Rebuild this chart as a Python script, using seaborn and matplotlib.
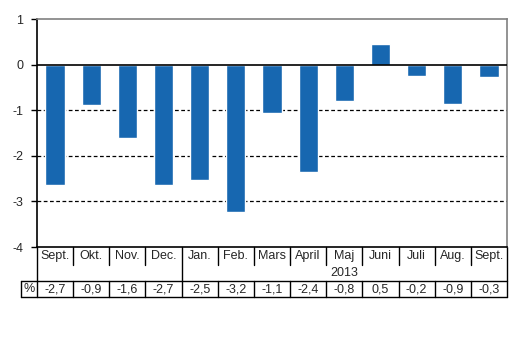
import matplotlib
matplotlib.use("Agg")
import matplotlib.pyplot as plt
import seaborn as sns
import pandas as pd
from matplotlib.lines import Line2D

months = ["Sept.", "Okt.", "Nov.", "Dec.", "Jan.", "Feb.", "Mars", "April",
          "Maj", "Juni", "Juli", "Aug.", "Sept."]
values = [-2.65, -0.88, -1.61, -2.64, -2.54, -3.24, -1.07, -2.36,
          -0.80, 0.46, -0.24, -0.87, -0.28]
table_labels = ["-2,7", "-0,9", "-1,6", "-2,7", "-2,5", "-3,2", "-1,1", "-2,4",
                "-0,8", "0,5", "-0,2", "-0,9", "-0,3"]
year_label = "2013"
year_start = 4
yticks = [-4, -3, -2, -1, 0, 1]
ytick_labels = ["-4", "-3", "-2", "-1", "0", "1"]

sns.set_style("white")
plt.rcParams["font.family"] = ["Liberation Sans", "DejaVu Sans"]

W, H = 530, 358
fig = plt.figure(figsize=(W / 100, H / 100), dpi=100)
ax_left, ax_right, ax_top, ax_bottom = 37, 507, 19, 247
ax = fig.add_axes([ax_left / W, 1 - ax_bottom / H, (ax_right - ax_left) / W, (ax_bottom - ax_top) / H])

df = pd.DataFrame({"key": [f"{i}" for i in range(len(months))], "value": values})
sns.barplot(data=df, x="key", y="value", color="#1767b0", width=0.53,
            saturation=1, ax=ax, order=df["key"].tolist())

n = len(months)
ax.set_xlim(-0.5, n - 0.5)
ax.set_ylim(-4, 1)
ax.set_xlabel("")
ax.set_ylabel("")
ax.set_xticks([])
ax.set_yticks(yticks)
ax.set_yticklabels(ytick_labels, fontsize=9)
ax.tick_params(axis="y", length=4, width=1, color="black", direction="out", pad=6, left=True)

for v in [-1, -2, -3]:
    ax.axhline(v, color="black", lw=0.9, ls=(0, (3, 2)), zorder=0)
ax.axhline(0, color="black", lw=1.2, zorder=3)

for side in ["top", "right"]:
    ax.spines[side].set_color("#808080")
    ax.spines[side].set_linewidth(1.2)
for side in ["left", "bottom"]:
    ax.spines[side].set_color("black")
    ax.spines[side].set_linewidth(1.2)

trans = ax.get_xaxis_transform()
def ay(py):
    return (ax_bottom - py) / (ax_bottom - ax_top)

def line(x0, x1, y0, y1):
    ax.add_line(Line2D([x0, x1], [y0, y1], transform=trans, color="black",
                       lw=1, clip_on=False))

cw = (ax_right - ax_left) / n
x_pct = -0.5 - (ax_left - 21) / cw

# month label row
for i, m in enumerate(months):
    ax.text(i, ay(256), m, transform=trans, ha="center", va="center", fontsize=9)
for k in range(1, n):
    if k == year_start:
        line(k - 0.5, k - 0.5, ay(247), ay(281))
    else:
        line(k - 0.5, k - 0.5, ay(247), ay(265))
ax.text((year_start - 0.5 + n - 0.5) / 2, ay(273), year_label, transform=trans,
        ha="center", va="center", fontsize=9)

# left and right boundaries through table
line(-0.5, -0.5, ay(247), ay(297))
line(n - 0.5, n - 0.5, ay(247), ay(297))

# data row
line(x_pct, n - 0.5, ay(281), ay(281))
line(x_pct, n - 0.5, ay(297), ay(297))
line(x_pct, x_pct, ay(281), ay(297))
for k in range(1, n):
    line(k - 0.5, k - 0.5, ay(281), ay(297))
ax.text((x_pct - 0.5) / 2, ay(289), "%", transform=trans, ha="center", va="center", fontsize=9)
for i, t in enumerate(table_labels):
    ax.text(i, ay(289), t, transform=trans, ha="center", va="center", fontsize=9)

fig.savefig("out.png", dpi=100)
